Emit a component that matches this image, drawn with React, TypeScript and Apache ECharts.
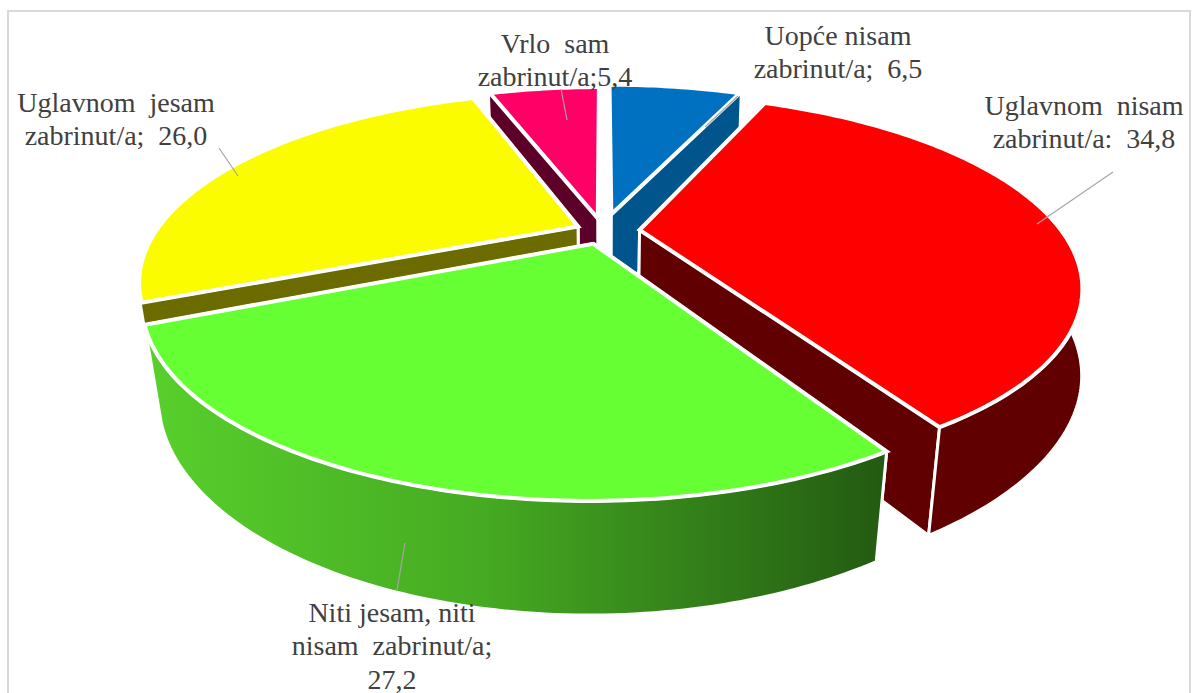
import React, { useEffect, useRef } from "react";
import * as echarts from "echarts";

const categories = ["Uopće nisam zabrinut/a", "Uglavnom nisam zabrinut/a", "Niti jesam, niti nisam zabrinut/a", "Uglavnom jesam zabrinut/a", "Vrlo sam zabrinut/a"];
const values = [6.5, 34.8, 27.2, 26.0, 5.4];
const topColors = ["#0070c0", "#ff0000", "#66ff33", "#fcfc00", "#ff0066"];
const wallColors = ["#00558c", "#600000", "#3f9a20", "#6b6b00", "#5c0029"];
// painter's order: back slices first
const drawOrder = [0, 4, 3, 1, 2];
const explode = [0.1, 0.087, 0.075, 0.065, 0.075];
const strokedOuterWall = [false, true, true, false, false];

const labelLines = [
  ["Uopće nisam", "zabrinut/a;  6,5"],
  ["Uglavnom  nisam", "zabrinut/a:  34,8"],
  ["Niti jesam, niti", "nisam  zabrinut/a;", "27,2"],
  ["Uglavnom  jesam", "zabrinut/a;  26,0"],
  ["Vrlo  sam", "zabrinut/a;5,4"],
];
const labelPos = [[838, 35], [1084, 105], [392, 612], [116, 102], [555, 43]];
const leaders = [
  [[738, 96], [705, 127]],
  [[1113, 172], [1037, 224]],
  [[405, 543], [397, 590]],
  [[219, 148], [238, 176]],
  [[561, 89], [567, 120]],
];

const VIEW = { cx: 603, cy: 231, R: 422, Ry: 175, k: 0.285, m: 0.033, D: 92, bottomShift: 14 };
const total = values.reduce((a, b) => a + b, 0);
const toRad = Math.PI / 180;

function project(u: number, v: number, down: boolean): number[] {
  const { cx, cy, R, Ry, k, m, D, bottomShift } = VIEW;
  const w = 1 + k * v + (down ? m : 0);
  const shift = down ? bottomShift * Math.pow(Math.max(0, u), 3) : 0;
  return [cx + shift + (R * u) / w, cy + (-Ry * v + (down ? D : 0)) / w];
}

function sliceAngles(i: number): number[] {
  let s = 0;
  for (let j = 0; j < i; j++) s += values[j];
  return [(s / total) * 360, ((s + values[i]) / total) * 360];
}

function slicePoints(i: number) {
  const [a0, a1] = sliceAngles(i);
  const mid = ((a0 + a1) / 2) * toRad;
  const e = explode[i];
  const ou = Math.sin(mid) * e;
  const ov = Math.cos(mid) * e;
  const rimTop: number[][] = [];
  const rimBot: number[][] = [];
  const n = Math.max(6, Math.ceil(a1 - a0));
  for (let t = 0; t <= n; t++) {
    const a = (a0 + ((a1 - a0) * t) / n) * toRad;
    const u = ou + Math.sin(a);
    const v = ov + Math.cos(a);
    rimTop.push(project(u, v, false));
    rimBot.push(project(u, v, true));
  }
  return { rimTop, rimBot, apexTop: project(ou, ov, false), apexBot: project(ou, ov, true) };
}

function renderSlice(params: any, api: any) {
  const i = api.value(0);
  const { rimTop, rimBot, apexTop, apexBot } = slicePoints(i);
  const wall = (points: number[][], fill: any, stroked = true) => ({
    type: "polygon",
    shape: { points },
    style: { fill, stroke: stroked ? "#ffffff" : fill, lineWidth: stroked ? 3 : 0, lineJoin: "round" },
  });
  const outerFill =
    i === 2
      ? new echarts.graphic.LinearGradient(0, 0, 1, 0, [
          { offset: 0, color: "#58d02c" },
          { offset: 0.45, color: "#46ab22" },
          { offset: 1, color: "#235a12" },
        ])
      : wallColors[i];
  const radialFill = wallColors[i];
  const last = rimTop.length - 1;
  const startWall = wall([apexTop, rimTop[0], rimBot[0], apexBot], radialFill);
  const endWall = wall([apexTop, rimTop[last], rimBot[last], apexBot], radialFill);
  // the radial wall nearer the viewer goes on top
  const radial = rimTop[0][1] > rimTop[last][1] ? [endWall, startWall] : [startWall, endWall];
  return {
    type: "group",
    children: [
      ...radial,
      wall([...rimTop, ...rimBot.slice().reverse()], outerFill, strokedOuterWall[i]),
      {
        type: "polygon",
        shape: { points: [apexTop, ...rimTop] },
        style: { fill: topColors[i], stroke: "#ffffff", lineWidth: 4, lineJoin: "miter" },
      },
    ],
  };
}

export default function App() {
  const ref = useRef<HTMLDivElement>(null);
  useEffect(() => {
    document.body.style.margin = "0";
    const chart = echarts.init(ref.current!, undefined, { renderer: "svg" });
    const graphics: any[] = [
      {
        type: "rect",
        z: 1,
        shape: { x: 8, y: 11, width: 1182, height: 720 },
        style: { fill: "#ffffff", stroke: "#d9d9d9", lineWidth: 2 },
      },
    ];
    leaders.forEach((l) => {
      graphics.push({
        type: "line",
        z: 50,
        shape: { x1: l[0][0], y1: l[0][1], x2: l[1][0], y2: l[1][1] },
        style: { stroke: "#a6a6a6", lineWidth: 1.2 },
      });
    });
    labelLines.forEach((lines, i) => {
      lines.forEach((line, j) => {
        graphics.push({
          type: "text",
          z: 60,
          x: labelPos[i][0],
          y: labelPos[i][1] + j * 33.5,
          style: {
            text: line,
            fill: "#404040",
            font: "28px 'Liberation Serif'",
            align: "center",
            verticalAlign: "middle",
          },
        });
      });
    });
    chart.setOption({
      animation: false,
      backgroundColor: "#ffffff",
      tooltip: { show: false },
      graphic: graphics,
      series: [
        {
          type: "custom",
          coordinateSystem: "none",
          z: 10,
          silent: true,
          renderItem: renderSlice,
          data: drawOrder.map((i) => ({ name: categories[i], value: [i, values[i]] })),
        },
      ],
    });
    return () => chart.dispose();
  }, []);
  return <div ref={ref} style={{ width: 1194, height: 693 }} />;
}
